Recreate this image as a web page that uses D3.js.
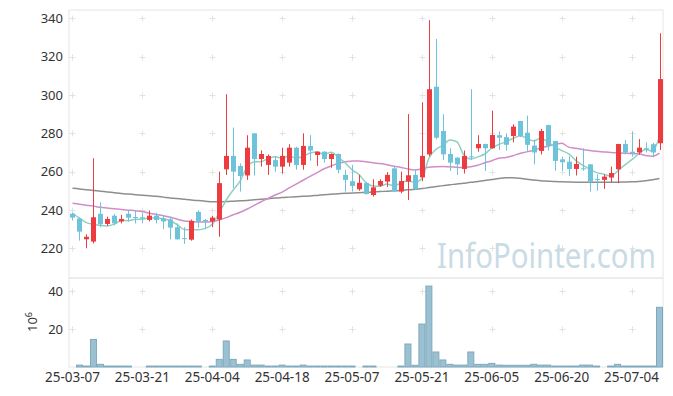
<!DOCTYPE html>
<html>
<head>
<meta charset="utf-8">
<script src="https://d3js.org/d3.v7.min.js"></script>
<style>
  html, body { margin: 0; padding: 0; background: #fff; }
  svg { display: block; font-family: "Noto Sans", "Liberation Sans", Arial, sans-serif; }
</style>
</head>
<body>
<div id="chart"></div>
<script>
// trading days, yy-mm-dd
const dates = [
  '25-03-07','25-03-10','25-03-11','25-03-12','25-03-13','25-03-14','25-03-17','25-03-18','25-03-19','25-03-20',
  '25-03-21','25-03-24','25-03-25','25-03-26','25-03-27','25-03-28','25-03-31','25-04-01','25-04-02','25-04-03',
  '25-04-04','25-04-07','25-04-08','25-04-09','25-04-10','25-04-11','25-04-14','25-04-15','25-04-16','25-04-17',
  '25-04-18','25-04-21','25-04-22','25-04-23','25-04-24','25-04-25','25-04-28','25-04-29','25-04-30','25-05-02',
  '25-05-07','25-05-08','25-05-09','25-05-12','25-05-13','25-05-14','25-05-15','25-05-16','25-05-19','25-05-20',
  '25-05-21','25-05-22','25-05-23','25-05-26','25-05-27','25-05-28','25-05-29','25-05-30','25-06-02','25-06-04',
  '25-06-05','25-06-09','25-06-10','25-06-11','25-06-12','25-06-13','25-06-16','25-06-17','25-06-18','25-06-19',
  '25-06-20','25-06-23','25-06-24','25-06-25','25-06-26','25-06-27','25-06-30','25-07-01','25-07-02','25-07-03',
  '25-07-04','25-07-07','25-07-08','25-07-09','25-07-10'
];

const opens = [
  238, 235.5, 224.7, 223.5, 238, 232.7, 237, 234, 238, 236.3,
  236.2, 234.8, 237, 235.7, 235.1, 231, 225.3, 224.5, 239, 234.8,
  234, 235, 261.2, 268.2, 263, 258, 280, 266.6, 263.5, 266,
  262.6, 264.7, 272.5, 263.5, 273.4, 268.7, 270.4, 266.6, 269.2, 258.3,
  255, 250.8, 254, 247.8, 252.7, 254.8, 261.7, 249.6, 254.8, 258.3,
  257, 269, 304.3, 281.2, 269.2, 267.3, 261.4, 268, 272.2, 274.4,
  272.2, 279, 278, 278.6, 286.4, 280.3, 273.6, 270.8, 284.3, 276,
  266.4, 265.2, 261.4, 261.7, 263.8, 256.2, 255.7, 256.9, 261.2, 274.4,
  270.4, 270, 272.2, 274.3, 274.8
];
const highs = [
  238.5, 236, 227.3, 267, 244, 236.5, 238, 237.4, 239.5, 239.5,
  238.6, 239.7, 238.6, 237.4, 236.5, 233, 231, 235, 239.7, 235.3,
  237, 260, 300.4, 283, 264.3, 279, 280, 271.1, 269, 268.2,
  272.5, 274.3, 273, 280, 279, 270.5, 270.6, 269.5, 269.5, 261,
  263.5, 258.3, 254.5, 256, 256, 259.7, 262.5, 260, 290, 261.2,
  296.2, 339, 329.2, 290, 272.2, 267.5, 271, 303, 279, 274.6,
  291.8, 281, 280, 284.7, 286.5, 289.2, 276.8, 282.3, 284.5, 276,
  267.8, 268, 267.8, 272.2, 264, 258.6, 258.6, 262.6, 274.5, 276.5,
  280.9, 277, 275.3, 275, 332.2
];
const lows = [
  234.5, 224, 220, 222.5, 231, 231.8, 232, 233, 234, 233,
  233, 234, 233, 230, 224.7, 224.5, 222.3, 224, 230.8, 230,
  231, 226, 258.3, 251.3, 249.6, 255.7, 258, 262.6, 258.3, 260,
  259, 262.6, 261, 261, 265.7, 263, 264.7, 262, 259, 249.6,
  249.6, 250, 248, 247, 252, 252, 249.5, 248.7, 245.2, 250.5,
  255, 268, 276.8, 266, 260.3, 258.3, 259, 266, 270.4, 260.3,
  272, 271.3, 271, 275.3, 278, 270.4, 263.8, 269, 271, 260.5,
  260.5, 257.7, 258, 260.5, 249.6, 250, 251, 254.4, 254, 269,
  267.8, 268.8, 270, 267.5, 271.3
];
const closes = [
  236, 228.7, 226, 236.2, 232.5, 235.3, 233, 235.3, 236, 235.8,
  235.5, 237, 234.8, 234, 230.8, 224.7, 224.8, 234.3, 234, 234,
  236, 254, 268.2, 260, 257.7, 272.5, 266.6, 269.2, 268.2, 262.6,
  268.2, 272.5, 263.5, 273.4, 271, 270.4, 266.6, 269.2, 261, 255.7,
  252.5, 254.2, 248.3, 251.8, 255.1, 258.3, 249.6, 255.1, 258.1, 250.8,
  268.2, 303, 277.7, 269, 264.7, 263.8, 268.2, 267.5, 274.4, 272.2,
  279.1, 277.7, 274, 283.5, 278.6, 274, 270, 281.2, 273.5, 265.6,
  264.9, 261.4, 264, 261.3, 254.8, 255.8, 257.4, 259.3, 274.4, 270,
  269.6, 272.5, 271.6, 270, 308.3
];

// volume, millions of shares
const volumes = [
  0, 1.0, 0.5, 14.5, 1.4, 0.5, 0.5, 0.5, 0.5, 0,
  0, 0.5, 0.5, 0.5, 0.5, 0.5, 0.5, 0.5, 0.5, 0,
  0.5, 4.0, 13.7, 4.0, 1.4, 3.7, 1.0, 1.0, 0.5, 0.5,
  1.0, 0.5, 0.5, 1.0, 0.5, 0.5, 0.5, 0.5, 0.5, 0.5,
  0.5, 0, 0.5, 0.5, 0, 0, 0, 0.5, 12.1, 0.9,
  22.6, 42.6, 7.9, 3.7, 1.4, 1.0, 1.0, 7.9, 1.4, 1.4,
  1.9, 1.0, 0.9, 0.9, 0.9, 0.9, 1.4, 1.0, 1.0, 0.5,
  0.5, 0.5, 0.5, 1.0, 1.0, 0.5, 0, 0.5, 1.4, 0.5,
  0.5, 0.5, 0.5, 0.5, 31.4
];

// moving averages as drawn
const ma5 = [
  238.3, 235.7, 233.4, 232.5, 231.9, 231.7, 232.6, 234.5, 234.4, 235.1,
  235.1, 235.9, 235.8, 235.4, 234.4, 232.3, 229.8, 229.7, 229.7, 230.4,
  232.6, 238.5, 245.2, 250.4, 255.2, 262.5, 265.0, 265.2, 266.8, 267.8,
  267.0, 268.1, 267.0, 268.0, 269.7, 270.2, 269.0, 270.1, 267.6, 264.6,
  261.0, 258.5, 254.3, 252.5, 252.4, 253.5, 252.6, 254.0, 255.2, 254.4,
  256.4, 267.0, 271.6, 273.7, 276.5, 275.6, 268.7, 266.6, 267.7, 269.2,
  272.3, 274.2, 275.5, 277.3, 278.6, 277.6, 276.0, 277.5, 275.5, 272.9,
  271.0, 269.3, 265.9, 263.4, 261.3, 259.5, 258.7, 257.7, 260.3, 263.4,
  266.1, 269.2, 271.6, 270.7, 278.4
];
const ma20 = [
  243.5, 243, 242.5, 242, 241.4, 241, 240.6, 240.2, 239.9, 239.6,
  239.2, 238.3, 237.6, 237, 236.2, 235.2, 234.3, 234, 233.7, 233.7,
  234, 234.8, 236, 237.5, 238.8, 240.5, 242.4, 244.3, 246, 247.8,
  249.3, 251.5, 253.5, 255.5, 257.5, 259.5, 261.5, 263, 264.3, 265.2,
  265.5, 265.6, 265.2, 264.6, 264.2, 263.6, 262.8, 262.2, 261.4, 260.9,
  261.5, 262.3, 262.6, 262.7, 262.5, 262.3, 262.1, 262.5, 263.3, 264.6,
  265.7, 267, 267.4, 268.3, 269.5, 270.3, 271.2, 272.3, 273.2, 274.2,
  274.8, 272.8, 272.2, 271.5, 271, 270.6, 270.3, 270, 269.8, 269.6,
  269.4, 269.3, 268.4, 268, 269.6
];
const ma60 = [
  251.3, 251, 250.6, 250.2, 249.8, 249.4, 249, 248.6, 248.3, 248,
  247.7, 247.4, 247.1, 246.7, 246.3, 246, 245.6, 245.2, 244.9, 244.6,
  244.3, 244.3, 244.4, 244.6, 244.8, 245, 245.3, 245.6, 245.9, 246.2,
  246.5, 246.7, 246.9, 247.1, 247.3, 247.6, 247.9, 248.2, 248.5, 248.7,
  248.8, 249, 249.2, 249.4, 249.6, 249.8, 250, 250.2, 250.5, 250.8,
  251.2, 251.7, 252.2, 252.7, 253.1, 253.6, 254, 254.4, 254.9, 255.4,
  255.9, 256.4, 256.8, 256.8, 256.5, 256, 255.6, 255.2, 255, 254.8,
  254.7, 254.6, 254.5, 254.5, 254.4, 254.4, 254.4, 254.4, 254.5, 254.6,
  254.7, 254.9, 255.3, 255.8, 256.4
];

const xTickLabels = ['25-03-07','25-03-21','25-04-04','25-04-18','25-05-07','25-05-21','25-06-05','25-06-20','25-07-04'];
const priceTicks = [220, 240, 260, 280, 300, 320, 340];
const volumeTicks = [20, 40];

const W = 673, H = 396;
const left = 69, right = 663;
const priceTop = 10, priceBottom = 278;
const volTop = 278, volBottom = 367;

const UP = '#ee3b40', DOWN = '#6cc3da';

const svg = d3.select('#chart').append('svg')
  .attr('width', W).attr('height', H);

const x = d3.scaleBand().domain(dates).range([left, right]).padding(0);
const cx = d => x(d) + x.bandwidth() / 2;

const y = d3.scaleLinear().domain([220, 340]).range([248.3, 18.3]);
const yv = d3.scaleLinear().domain([0, 40]).range([volBottom, 291]);

// panel frames
svg.append('rect')
  .attr('x', left).attr('y', priceTop)
  .attr('width', right - left).attr('height', priceBottom - priceTop)
  .attr('fill', 'none').attr('stroke', '#e6e6e6');
svg.append('rect')
  .attr('x', left).attr('y', volTop)
  .attr('width', right - left).attr('height', volBottom - volTop)
  .attr('fill', 'none').attr('stroke', '#e6e6e6');

// "+" grid marks
const plus = (g, px, py) => {
  g.append('path')
    .attr('d', `M${px - 3},${py}H${px + 3}M${px},${py - 3}V${py + 3}`)
    .attr('stroke', '#e2e2e2').attr('stroke-width', 1);
};
const grid = svg.append('g').attr('class', 'grid');
xTickLabels.forEach(d => {
  priceTicks.forEach(v => plus(grid, Math.round(cx(d)) + 0.5, Math.round(y(v)) + 0.5));
  volumeTicks.forEach(v => plus(grid, Math.round(cx(d)) + 0.5, Math.round(yv(v)) + 0.5));
});

// watermark
svg.append('text')
  .attr('x', 437).attr('y', 268)
  .attr('textLength', 219).attr('lengthAdjust', 'spacingAndGlyphs')
  .style('font-size', '34px')
  .attr('fill', '#c9dbe4')
  .text('InfoPointer.com');

// moving average lines
const maLine = arr => d3.line()
  .x((d, i) => cx(dates[i]))
  .y(d => y(d))
  .curve(d3.curveMonotoneX)(arr);

svg.append('path').attr('d', maLine(ma60))
  .attr('fill', 'none').attr('stroke', '#8e8e8e').attr('stroke-width', 1.5);
svg.append('path').attr('d', maLine(ma20))
  .attr('fill', 'none').attr('stroke', '#d18ec6').attr('stroke-width', 1.5);
svg.append('path').attr('d', maLine(ma5))
  .attr('fill', 'none').attr('stroke', '#8fd0c2').attr('stroke-width', 1.5);

// candles
const candles = svg.append('g').attr('class', 'candles')
  .selectAll('g')
  .data(dates.map((d, i) => ({ d, o: opens[i], h: highs[i], l: lows[i], c: closes[i] })))
  .enter().append('g');

candles.append('line')
  .attr('x1', d => Math.round(cx(d.d)) + 0.5)
  .attr('x2', d => Math.round(cx(d.d)) + 0.5)
  .attr('y1', d => y(d.h))
  .attr('y2', d => y(d.l))
  .attr('stroke', d => d.c > d.o ? UP : DOWN)
  .attr('stroke-width', 1);

candles.append('rect')
  .attr('x', d => Math.round(cx(d.d)) - 2)
  .attr('width', 5)
  .attr('y', d => y(Math.max(d.o, d.c)))
  .attr('height', d => Math.max(1, Math.abs(y(d.o) - y(d.c))))
  .attr('fill', d => d.c > d.o ? UP : DOWN);

// volume bars
svg.append('g').attr('class', 'volume')
  .selectAll('rect')
  .data(dates.map((d, i) => ({ d, v: volumes[i] })).filter(e => e.v > 0))
  .enter().append('rect')
  .attr('x', d => x(d.d) + 0.5)
  .attr('width', x.bandwidth() - 1)
  .attr('y', d => yv(d.v))
  .attr('height', d => volBottom - yv(d.v))
  .attr('fill', '#9bc0d1')
  .attr('stroke', '#7ea9bd')
  .attr('stroke-width', 1);

// axes
const yAxis = svg.append('g')
  .attr('transform', `translate(${left},0)`)
  .call(d3.axisLeft(y).tickValues(priceTicks).tickSize(0).tickPadding(6));
const vAxis = svg.append('g')
  .attr('transform', `translate(${left},0)`)
  .call(d3.axisLeft(yv).tickValues(volumeTicks).tickSize(0).tickPadding(6));
const xAxis = svg.append('g')
  .attr('transform', `translate(0,${volBottom})`)
  .call(d3.axisBottom(x).tickValues(xTickLabels).tickSize(0).tickPadding(5));

[yAxis, vAxis, xAxis].forEach(g => {
  g.select('.domain').remove();
  g.selectAll('text')
    .attr('fill', '#333')
    .style('font-size', '13px')
    .style('font-family', '"Noto Sans", "Liberation Sans", Arial, sans-serif');
});
xAxis.selectAll('text').style('font-size', '13.5px');

// unit label
const unit = svg.append('text')
  .attr('transform', 'translate(37,322) rotate(-90)')
  .attr('text-anchor', 'middle')
  .attr('fill', '#333')
  .style('font-size', '13px');
unit.append('tspan').text('10');
unit.append('tspan').attr('dy', -5).style('font-size', '9px').text('6');
</script>
</body>
</html>
